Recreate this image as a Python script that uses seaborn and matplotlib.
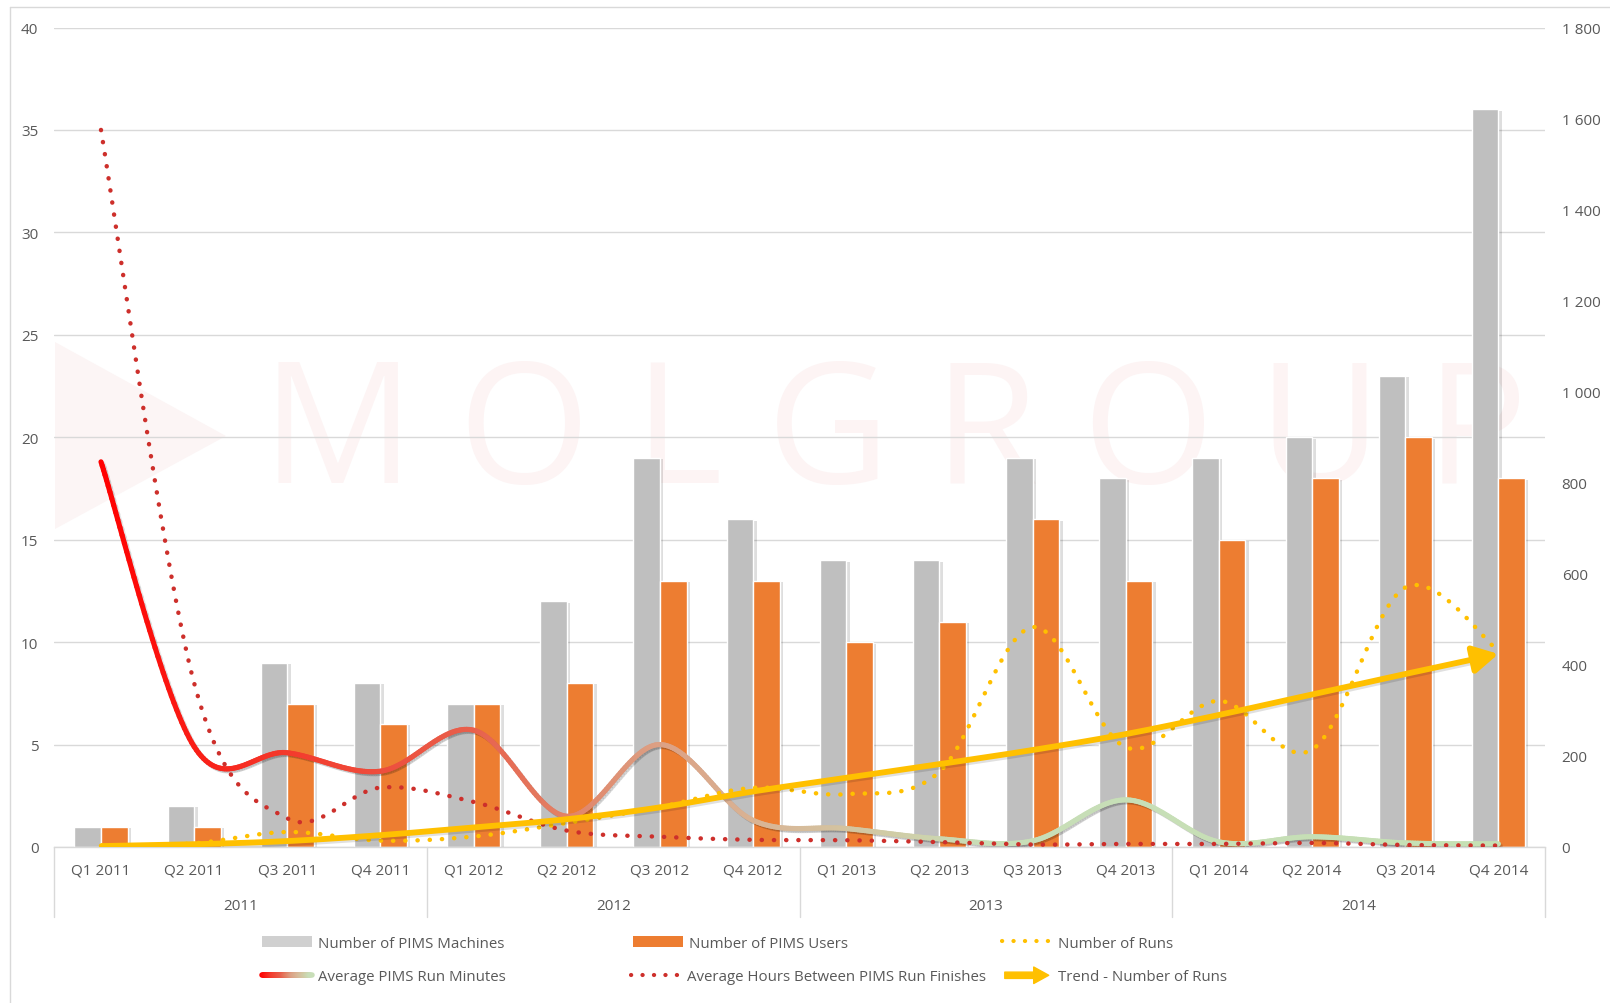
import numpy as np
import pandas as pd
import matplotlib
matplotlib.use("Agg")
import matplotlib.pyplot as plt
import seaborn as sns
from matplotlib.collections import LineCollection
from matplotlib.legend_handler import HandlerBase
from matplotlib.lines import Line2D
from matplotlib.patches import Patch, FancyArrowPatch, Polygon
import matplotlib.patheffects as pe
from matplotlib.ticker import FuncFormatter
from matplotlib import transforms
from matplotlib.colors import to_rgb

# ---------------- data ----------------
quarters = ["Q1 2011", "Q2 2011", "Q3 2011", "Q4 2011",
            "Q1 2012", "Q2 2012", "Q3 2012", "Q4 2012",
            "Q1 2013", "Q2 2013", "Q3 2013", "Q4 2013",
            "Q1 2014", "Q2 2014", "Q3 2014", "Q4 2014"]
years = ["2011", "2012", "2013", "2014"]
machines = [1, 2, 9, 8, 7, 12, 19, 16, 14, 14, 19, 18, 19, 20, 23, 36]
users = [1, 1, 7, 6, 7, 8, 13, 13, 10, 11, 16, 13, 15, 18, 20, 18]
run_minutes = [18.8, 4.9, 4.6, 3.7, 5.7, 1.5, 5.0, 1.3,
               0.9, 0.4, 0.3, 2.3, 0.25, 0.5, 0.2, 0.15]
hours_between = [35.0, 8.0, 1.4, 2.9, 2.2, 0.8, 0.5, 0.35,
                 0.33, 0.24, 0.12, 0.15, 0.15, 0.2, 0.1, 0.07]
runs = [3, 8, 33, 14, 23, 53, 88, 130, 116, 165, 483, 219, 321, 214, 570, 431]
trend_runs = [2, 6, 13, 26, 43, 61, 87, 122, 152, 182, 213, 248, 290, 335, 380, 424]

left_ticks = list(range(0, 41, 5))
right_ticks = list(range(0, 1801, 200))

# ---------------- style ----------------
sns.set_style("white")
plt.rcParams["font.family"] = ["Open Sans", "DejaVu Sans"]
TXT = "#595959"
GRID = "#d9d9d9"
GREY = "#bfbfbf"
ORANGE = "#ed7d31"
GOLD = "#ffc000"
DOTRED = "#cd2f2b"
DOTS = (0, (0.05, 2.7))

grad_x = [0, 2, 4, 5, 6, 7.3, 8.5, 9.5, 15]
grad_c = ["#ff0000", "#f43a2c", "#e8604c", "#e28266", "#dca084",
          "#d8b898", "#d0cca6", "#c8deb8", "#c5e0b4"]
grad_rgb = np.array([to_rgb(c) for c in grad_c])


def grad_color(x):
    return tuple(np.interp(x, grad_x, grad_rgb[:, k]) for k in range(3))


def smooth(y, n=40):
    """Excel-style smoothed line (Catmull-Rom / Bezier through the points)."""
    y = np.asarray(y, float)
    x = np.arange(len(y), dtype=float)
    P = np.column_stack([x, y])
    E = np.vstack([P[0], P, P[-1]])
    out = []
    for i in range(len(P) - 1):
        p0, p1, p2, p3 = E[i], E[i + 1], E[i + 2], E[i + 3]
        c1 = p1 + (p2 - p0) / 6.0
        c2 = p2 - (p3 - p1) / 6.0
        t = np.linspace(0, 1, n, endpoint=(i == len(P) - 2))[:, None]
        out.append((1 - t) ** 3 * p1 + 3 * (1 - t) ** 2 * t * c1
                   + 3 * (1 - t) * t ** 2 * c2 + t ** 3 * p2)
    return np.vstack(out)


W, H = 1610, 1004
fig = plt.figure(figsize=(W / 100, H / 100), dpi=100)
ax = fig.add_axes([54.4 / W, (H - 848) / H, (1545 - 54.4) / W, 819.5 / H])

# bars
df = pd.DataFrame({
    "Quarter": quarters * 2,
    "Value": machines + users,
    "Series": ["Number of PIMS Machines"] * len(quarters) + ["Number of PIMS Users"] * len(quarters),
})
sns.barplot(data=df, x="Quarter", y="Value", hue="Series", palette=[GREY, ORANGE],
            width=0.57, gap=0, saturation=1, errorbar=None, legend=False, ax=ax, zorder=2)
for p in list(ax.patches):
    p.set_path_effects([pe.SimplePatchShadow(offset=(2.5, -1), shadow_rgbFace="#000000", alpha=0.13),
                        pe.Normal()])

# faint watermark
ax.add_patch(Polygon([(55 / W, 1 - 343 / H), (226 / W, 1 - 437 / H), (55 / W, 1 - 530 / H)],
                     closed=True, transform=fig.transFigure, facecolor="#fcf5f5",
                     edgecolor="none", zorder=0.2))
ax.text(895 / W, 1 - 439 / H, "M O L G R O U P", transform=fig.transFigure, fontsize=122,
        color="#fdf4f4", ha="center", va="center", zorder=0.2)

# Average PIMS Run Minutes - gradient smoothed line
pts = smooth(run_minutes)
segs = np.stack([pts[:-1], pts[1:]], axis=1)
cols = [grad_color(0.5 * (a[0] + b[0])) for a, b in segs]
lc = LineCollection(segs, colors=cols, linewidths=3.7, capstyle="round", zorder=4)
lc.set_path_effects([pe.SimpleLineShadow(offset=(1.5, -1.5), alpha=0.09), pe.Normal()])
ax.add_collection(lc)

# Average hours between run finishes - red dotted smoothed
hb = smooth(hours_between)
ax.plot(hb[:, 0], hb[:, 1], color=DOTRED, lw=3.2, linestyle=DOTS,
        dash_capstyle="round", zorder=5)

ax.set_xlim(-0.5, len(quarters) - 0.5)
ax.set_ylim(0, 40)
ax.set_yticks(left_ticks)
ax.grid(axis="y", color=GRID, lw=1)
ax.grid(axis="x", visible=False)
ax.set_axisbelow(True)
for s in ["top", "left", "right"]:
    ax.spines[s].set_visible(False)
ax.spines["bottom"].set_color(GRID)
ax.spines["bottom"].set_linewidth(1)
ax.set_xlabel("")
ax.set_ylabel("")
ax.set_xticks(range(len(quarters)))
ax.set_xticklabels([])
ax.tick_params(axis="x", length=0)
ax.tick_params(axis="y", length=0, pad=11.5, labelsize=11, labelcolor=TXT)

# multi-level category axis
bt = transforms.blended_transform_factory(ax.transData, ax.transAxes)
for i, q in enumerate(quarters):
    ax.text(i, -23 / 819.5, q, transform=bt, ha="center", va="center", fontsize=11, color=TXT)
for k, yname in enumerate(years):
    ax.text(4 * k + 1.5, -59 / 819.5, yname, transform=bt, ha="center", va="center",
            fontsize=11, color=TXT)
for xb in [-0.5, 3.5, 7.5, 11.5, 15.5]:
    ax.add_line(Line2D([xb, xb], [0, -70 / 819.5], transform=bt, color=GRID, lw=1, clip_on=False))

# secondary axis
ax2 = ax.twinx()
ax2.set_ylim(0, 1800)
ax2.set_yticks(right_ticks)
ax2.yaxis.set_major_formatter(FuncFormatter(lambda v, p: f"{int(v):,}".replace(",", " ")))
ax2.tick_params(axis="y", length=0, pad=12, labelsize=11, labelcolor=TXT)
for s in ax2.spines.values():
    s.set_visible(False)
ax2.grid(False)

rs = smooth(runs)
ax2.plot(rs[:, 0], rs[:, 1], color=GOLD, lw=3.2, linestyle=DOTS,
         dash_capstyle="round", zorder=5)

ts = smooth(trend_runs)
cut = ts[:, 0] <= len(trend_runs) - 1.15
ax2.plot(ts[cut, 0], ts[cut, 1], color=GOLD, lw=4.2, solid_capstyle="butt", zorder=6,
         path_effects=[pe.SimpleLineShadow(offset=(1.5, -1.5), alpha=0.12), pe.Normal()])
n_last = len(trend_runs) - 1
ax2.annotate("", xy=(n_last, trend_runs[-1]), xytext=(ts[cut, 0][-1], ts[cut, 1][-1]),
             arrowprops=dict(arrowstyle="-|>,head_length=1.0,head_width=0.55", color=GOLD,
                             lw=4.2, mutation_scale=15, shrinkA=0, shrinkB=0), zorder=6)
ax2.set_xlim(-0.5, len(quarters) - 0.5)


# ---------------- legend ----------------
class GradientHandler(HandlerBase):
    def create_artists(self, legend, orig_handle, xdescent, ydescent, width, height, fontsize, trans):
        xs = np.linspace(0, width, 50) - xdescent
        yv = height / 2 - ydescent
        p = np.column_stack([xs, np.full_like(xs, yv)])
        sg = np.stack([p[:-1], p[1:]], axis=1)
        cl = [grad_color(v) for v in np.linspace(0, 9.5, len(sg))]
        return [LineCollection(sg, colors=cl, linewidths=4, capstyle="round", transform=trans)]


class ArrowHandler(HandlerBase):
    def create_artists(self, legend, orig_handle, xdescent, ydescent, width, height, fontsize, trans):
        yv = height / 2 - ydescent
        a = FancyArrowPatch((-xdescent, yv), (-xdescent + width, yv),
                            arrowstyle="simple,head_length=1.0,head_width=1.1,tail_width=0.42",
                            mutation_scale=fontsize, color=GOLD, transform=trans)
        return [a]


grad_handle = Line2D([], [], color="red")
arrow_handle = Line2D([], [], color=GOLD)
entries = [
    (Patch(facecolor="#d0d0d0", edgecolor="none"), "Number of PIMS Machines", 262, 944),
    (Patch(facecolor=ORANGE, edgecolor="none"), "Number of PIMS Users", 633, 944),
    (Line2D([], [], color=GOLD, lw=3.0, linestyle=DOTS, dash_capstyle="round"),
     "Number of Runs", 1002, 944),
    (grad_handle, "Average PIMS Run Minutes", 262, 978),
    (Line2D([], [], color=DOTRED, lw=3.0, linestyle=DOTS, dash_capstyle="round"),
     "Average Hours Between PIMS Run Finishes", 631, 978),
    (arrow_handle, "Trend - Number of Runs", 1002, 978),
]
for h, lab, xp, yp in entries:
    fig.legend([h], [lab], loc="center left", bbox_to_anchor=(xp / W, 1 - yp / H),
               frameon=False, fontsize=10.8, labelcolor=TXT, handlelength=3.3,
               handleheight=0.75, handletextpad=0.45, borderpad=0, borderaxespad=0,
               handler_map={grad_handle: GradientHandler(), arrow_handle: ArrowHandler()})

# chart border
fig.add_artist(Line2D([9.5 / W, 9.5 / W], [0, 1 - 8 / H], transform=fig.transFigure, color=GRID, lw=1))
fig.add_artist(Line2D([9.5 / W, 1], [1 - 8 / H, 1 - 8 / H], transform=fig.transFigure, color=GRID, lw=1))

fig.savefig("out.png", dpi=100, facecolor="white")
